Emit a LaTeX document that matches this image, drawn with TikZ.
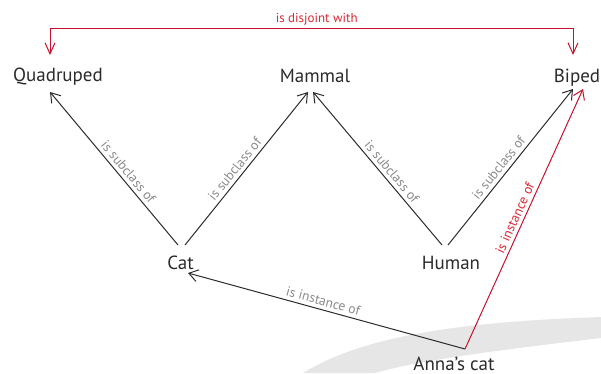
\documentclass[tikz,border=0pt]{standalone}
\usepackage{fontspec}
\setmainfont{PT Sans}
\usetikzlibrary{arrows.meta,calc}
\definecolor{ink}{HTML}{2B2B2B}
\definecolor{labgray}{HTML}{8A8A8A}
\definecolor{redc}{HTML}{C8102E}
\definecolor{redlab}{HTML}{DC2A35}
\definecolor{bandgray}{HTML}{E6E6E6}
\begin{document}
\begin{tikzpicture}[x=1pt,y=-1pt,
  concept/.style={font=\fontsize{19}{19}\selectfont, text=ink, inner sep=0pt, anchor=base},
  rel/.style={draw=ink, line width=1pt, -{Straight Barb[length=9pt,width=12pt]}},
  redrel/.style={draw=redc, line width=1pt, -{Straight Barb[length=9pt,width=12pt]}},
  dis/.style={draw=redc, line width=1pt, {Straight Barb[length=11pt,width=10pt]}-{Straight Barb[length=11pt,width=10pt]}},
  lab/.style={font=\fontsize{13.5}{13.5}\selectfont, text=labgray, sloped, above, inner sep=3.5pt, pos=0.46},
  redlabel/.style={lab, text=redlab}
]
\useasboundingbox (0,0) rectangle (601,373);
\fill[bandgray] (303,373) .. controls (360,338) and (450,322) .. (601,317) -- (601,338) .. controls (500,350) and (420,360) .. (375,373) -- cycle;

\node[concept] (quad) at (58,81) {Quadruped};
\node[concept] (mammal) at (315,82) {Mammal};
\node[concept] (biped) at (577,82) {Biped};
\node[concept] (cat) at (180.5,269) {Cat};
\node[concept] (human) at (451,269) {Human};
\node[concept] (anna) at (454,370) {Anna’s cat};

\coordinate (dl) at ($(quad.base)+(-8,-53)$);
\coordinate (dr) at ($(biped.base)+(-4,-54)$);
\draw[dis] ($(quad.base)+(-8,-26)$) -- (dl) -- node[pos=0.51, above, inner sep=2.5pt, font=\fontsize{13}{13}\selectfont, text=redlab]{is disjoint with} (dr) -- ($(biped.base)+(-4,-27)$);

\draw[rel] ($(cat.base)+(-2.5,-24)$) -- node[lab, pos=0.44]{is subclass of} ($(quad.base)+(-8,11)$);
\draw[rel] ($(cat.base)+(4.5,-24)$) -- node[lab]{is subclass of} ($(mammal.base)+(-7,10)$);
\draw[rel] ($(human.base)+(-9,-24)$) -- node[lab, pos=0.44]{is subclass of} ($(mammal.base)+(-2,10)$);
\draw[rel] ($(human.base)+(-3,-24)$) -- node[lab]{is subclass of} ($(biped.base)+(-4,7)$);
\draw[rel] ($(anna.base)+(11,-21)$) -- node[lab, pos=0.52]{is instance of} ($(cat.base)+(7.5,4)$);
\draw[redrel] ($(anna.base)+(11,-21)$) -- node[redlabel, pos=0.49]{is instance of} ($(biped.base)+(6,7)$);
\end{tikzpicture}
\end{document}
